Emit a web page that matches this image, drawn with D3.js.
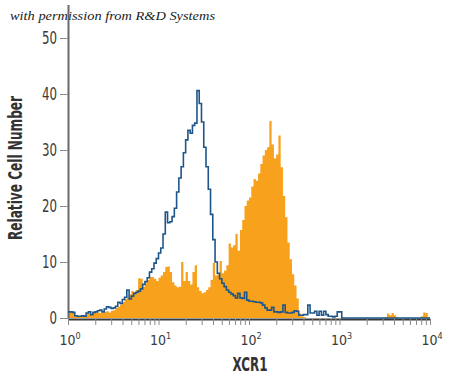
<!DOCTYPE html>
<html><head><meta charset="utf-8">
<script src="https://cdn.jsdelivr.net/npm/d3@7"></script>
<style>html,body{margin:0;padding:0;background:#fff;} svg{display:block}</style>
</head><body><svg id="c" width="450" height="381"></svg>
<script>
// ---- data ----
const xTickValues = [1, 10, 100, 1000, 10000];
const xTickExponents = ["0", "1", "2", "3", "4"];
const yTickValues = [0, 10, 20, 30, 40, 50];
const xTitle = "XCR1";
const yTitle = "Relative Cell Number";
const credit = "with permission from R&D Systems";
const binsPerDecade = 40; // histogram channels per decade, starting at 10^0

// isotype control (blue outline)
const blueCounts = [
  1.1,1.1,1.0,0.4,0.3,0.3,0.4,0.3,0.9,1.1,
  0.6,1.0,1.1,1.3,1.4,1.1,1.6,2.0,1.9,1.7,
  1.8,2.1,2.8,2.6,3.3,3.7,5.0,3.4,3.9,4.4,
  4.6,4.8,5.2,6.0,6.5,7.2,8.2,8.8,9.8,10.6,
  11.6,12.5,15.0,18.9,17.0,17.2,18.1,19.6,22.5,25.0,
  27.0,29.5,31.8,33.5,33.0,34.4,34.8,40.6,38.3,35.0,
  30.5,27.0,23.0,18.5,14.0,10.0,8.0,7.0,6.2,5.6,
  5.0,4.6,4.3,4.0,3.6,4.4,3.6,3.5,4.6,3.2,
  3.0,3.0,2.9,2.8,2.8,2.7,2.3,1.8,1.4,1.4,
  1.9,1.1,1.1,1.0,1.1,2.3,1.0,0.9,0.9,1.0,
  1.3,1.2,0.5,0.5,0.6,0.6,2.3,0.9,0.9,1.2,
  0.5,1.2,0.5,1.2,0.6,0.3,0.3,0.2,0.3,1.1,
  1.1,0,0,0,0,0,0,0,0,0,
  0,0,0,0,0,0,0,0,0,0,
  0,0,0,0,0,0,0,0,0,0,
  0,0,0,0,0,0,0,0,0,0
];
// XCR1 stained (orange fill)
const orangeCounts = [
  1.2,1.2,0.9,0.3,0.2,0.2,0.3,0.5,0.9,0.8,
  0.6,0.9,1.0,1.0,0.9,1.0,1.1,1.2,1.0,1.3,
  1.4,1.8,2.0,2.4,2.8,3.4,3.6,4.2,4.8,4.6,
  5.0,7.1,7.0,5.6,6.2,6.8,7.3,7.3,7.0,6.6,
  7.2,7.6,8.2,9.1,9.2,8.2,6.4,5.8,5.5,5.6,
  10.0,6.6,8.2,6.6,6.0,8.2,9.4,5.5,4.8,4.4,
  4.6,5.0,5.5,6.8,9.8,7.6,7.8,10.2,8.0,8.5,
  9.4,13.3,12.6,13.0,15.0,12.0,15.7,17.5,20.0,21.0,
  21.5,23.5,24.8,24.5,25.8,27.5,29.0,30.0,30.5,35.2,
  31.0,28.5,29.2,32.6,26.9,21.8,18.0,13.5,10.5,7.8,
  5.8,3.5,0.8,0.3,0.2,0,0,0,0,0,
  0,0,0,0,0,0,0,0,0,0,
  0,0,0,0,0,0,0,0,0,0,
  0,0,0,0,0,0,0,0,0,0,
  0.2,0.8,0.5,0.9,0.5,0.2,0,0,0,0,
  0,0,0,0,0,0,0.3,1.0,0.9,0.2
];

// ---- chart ----
const svg = d3.select("#c");
svg.append("rect").attr("width", 450).attr("height", 381).attr("fill", "#fff");

const x = d3.scaleLog().domain([1, 10000]).range([68, 430]);
const y = d3.scaleLinear().domain([0, 56]).range([318, 4.4]);

const edge = i => Math.pow(10, i / binsPerDecade);
const toPts = arr => {
  const p = arr.map((v, i) => [edge(i), v]);
  p.push([edge(arr.length), arr[arr.length - 1]]);
  return p;
};

const font = "'Liberation Sans Narrow','Arial Narrow','DejaVu Sans Condensed',sans-serif";

// credit
svg.append("text")
  .attr("x", 10).attr("y", 20)
  .attr("font-family", "'Liberation Serif','DejaVu Serif',serif")
  .attr("font-style", "italic")
  .attr("font-size", 13)
  .attr("textLength", 205)
  .attr("lengthAdjust", "spacingAndGlyphs")
  .attr("fill", "#222")
  .text(credit);

// orange filled histogram
svg.append("path")
  .datum(toPts(orangeCounts))
  .attr("fill", "#f8a11c")
  .attr("d", d3.area().x(d => x(d[0])).y0(y(0)).y1(d => y(d[1])).curve(d3.curveStepAfter));

// y axis
const yAxis = svg.append("g").attr("transform", "translate(68,0)")
  .call(d3.axisLeft(y).tickValues(yTickValues).tickSize(8).tickSizeOuter(0).tickPadding(3));
yAxis.select(".domain").attr("stroke", "#6a6a6a").attr("stroke-width", 2);
yAxis.selectAll(".tick line").attr("stroke", "#8a8a8a").attr("stroke-width", 1);
yAxis.selectAll(".tick text").attr("font-family", font).attr("font-size", 17).attr("fill", "#3a3a3a")
  .attr("textLength", 15).attr("lengthAdjust", "spacingAndGlyphs");
yAxis.selectAll(".tick text").filter(d => d === 0).attr("textLength", 7.5);

// x axis
const xAll = [];
for (let d = 0; d < 4; d++) for (let m = 1; m <= 9; m++) xAll.push(m * Math.pow(10, d));
xAll.push(10000);
const xAxis = svg.append("g").attr("transform", "translate(0,319)")
  .call(d3.axisBottom(x).tickValues(xAll).tickSize(6).tickSizeOuter(0).tickFormat(""));
xAxis.select(".domain").attr("stroke", "#3a3a3a").attr("stroke-width", 2);
xAxis.selectAll(".tick line").attr("stroke", "#8a8a8a").attr("stroke-width", 1);

// blue outline histogram
svg.append("path")
  .datum(toPts(blueCounts))
  .attr("fill", "none")
  .attr("stroke", "#1f5689")
  .attr("stroke-width", 1.6)
  .attr("d", d3.line().x(d => x(d[0])).y(d => y(d[1])).curve(d3.curveStepAfter));

// x tick labels with superscripts
xTickValues.forEach((v, i) => {
  const t = svg.append("text")
    .attr("x", x(v) + 2).attr("y", 345)
    .attr("text-anchor", "middle")
    .attr("font-family", font).attr("font-size", 14).attr("fill", "#3a3a3a");
  t.append("tspan").text("10");
  t.append("tspan").attr("dy", -6).attr("font-size", 9).text(xTickExponents[i]);
});

// axis titles
svg.append("text")
  .attr("x", 250).attr("y", 371)
  .attr("text-anchor", "middle")
  .attr("font-family", font).attr("font-weight", "bold").attr("font-size", 20)
  .attr("textLength", 35).attr("lengthAdjust", "spacingAndGlyphs")
  .attr("fill", "#333")
  .text(xTitle);

svg.append("text")
  .attr("transform", "translate(22,168) rotate(-90)")
  .attr("text-anchor", "middle")
  .attr("font-family", font).attr("font-weight", "bold").attr("font-size", 19)
  .attr("textLength", 144).attr("lengthAdjust", "spacingAndGlyphs")
  .attr("fill", "#333")
  .text(yTitle);
</script>
</body></html>
